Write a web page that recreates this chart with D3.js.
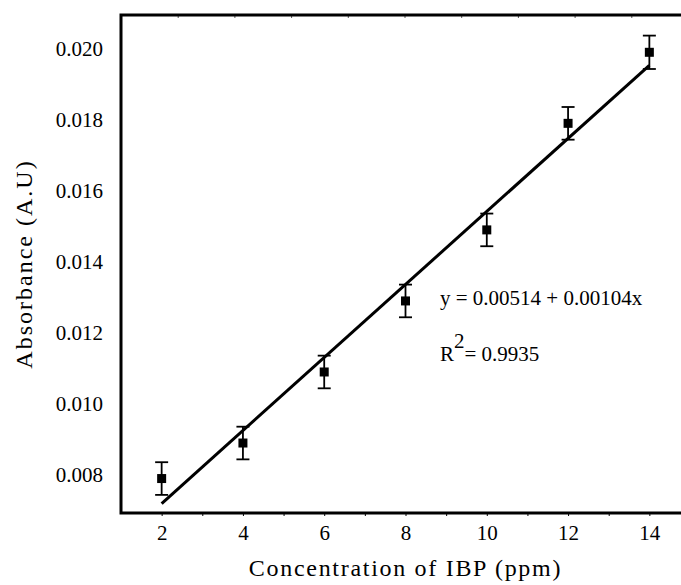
<!DOCTYPE html>
<html>
<head>
<meta charset="utf-8">
<script src="https://cdn.jsdelivr.net/npm/d3@7"></script>
<style>
  body { margin: 0; background: #fff; }
</style>
</head>
<body>
<div id="chart"></div>
<script>
// data
const concentrations = [2, 4, 6, 8, 10, 12, 14]
const absorbance = [0.0079, 0.0089, 0.0109, 0.0129, 0.0149, 0.0179, 0.0199]
const errors = [0.00046, 0.00046, 0.00046, 0.00046, 0.00046, 0.00046, 0.00047]
const xTicks = [2, 4, 6, 8, 10, 12, 14]
const yTicks = [0.008, 0.010, 0.012, 0.014, 0.016, 0.018, 0.020]
// fitted line as drawn
const fitRange = [2, 14]
const fitIntercept = 0.00514
const fitSlope = 0.001028
const equationText = "y = 0.00514 + 0.00104x"
const r2Text = "= 0.9935"

const width = 681, height = 585
const box = {left: 121, top: 15, right: 690, bottom: 513}
const FONT = 'Liberation Serif'

const svg = d3.select('#chart')
  .append('svg')
  .attr('width', width)
  .attr('height', height)

const x = d3.scaleLinear().domain([1, 15]).range([box.left, box.right])
const y = d3.scaleLinear().domain([0.00693, 0.02095]).range([box.bottom, box.top])

// Axes - bottom with minor ticks every unit
const xAxis = svg.append('g')
  .attr('transform', 'translate(0,' + box.bottom + ')')
  .call(d3.axisBottom(x).tickValues(d3.range(2, 15)).tickSize(3).tickFormat(d => xTicks.includes(d) ? d : ''))
xAxis.attr('font-family', FONT).attr('font-size', 21)
xAxis.select('.domain').remove()
xAxis.selectAll('line').attr('stroke-width', 1)
xAxis.selectAll('text')
  .attr('y', 12)
  .attr('font-family', FONT)
  .attr('font-size', 21)

// left axis labels (no tick marks)
const yAxis = svg.append('g')
  .attr('transform', 'translate(' + box.left + ',0)')
  .call(d3.axisLeft(y).tickValues(yTicks).tickSize(0).tickPadding(18).tickFormat(d3.format('.3f')))
yAxis.attr('font-family', FONT).attr('font-size', 21)
yAxis.select('.domain').remove()
yAxis.selectAll('text')
  .attr('font-family', FONT)
  .attr('font-size', 21)

// top faint ticks
const xTop = d3.scaleLinear().domain([0, 10]).range([box.left, box.left + 567])
const topAxis = svg.append('g')
  .attr('transform', 'translate(0,' + box.top + ')')
  .call(d3.axisBottom(xTop).ticks(10).tickSize(3).tickFormat(''))
topAxis.select('.domain').remove()
topAxis.selectAll('line').attr('stroke', '#555').attr('stroke-width', 1)

// frame
svg.append('path')
  .attr('d', `M${box.right},${box.top}H${box.left}V${box.bottom}H${box.right}`)
  .attr('fill', 'none')
  .attr('stroke', '#000')
  .attr('stroke-width', 3)

// fit line
svg.append('line')
  .attr('x1', x(fitRange[0]))
  .attr('y1', y(fitIntercept + fitSlope * fitRange[0]))
  .attr('x2', x(fitRange[1]))
  .attr('y2', y(fitIntercept + fitSlope * fitRange[1]))
  .attr('stroke', '#000')
  .attr('stroke-width', 3)

const pts = concentrations.map((c, i) => ({c, a: absorbance[i], e: errors[i]}))

// error bars
const bars = svg.selectAll('g.err')
  .data(pts)
  .enter()
  .append('g')
  .attr('class', 'err')
  .attr('stroke', '#000')
  .attr('stroke-width', 1.8)
bars.append('line')
  .attr('x1', d => x(d.c)).attr('x2', d => x(d.c))
  .attr('y1', d => y(d.a - d.e)).attr('y2', d => y(d.a + d.e))
bars.append('line')
  .attr('x1', d => x(d.c) - 6.5).attr('x2', d => x(d.c) + 6.5)
  .attr('y1', d => y(d.a + d.e)).attr('y2', d => y(d.a + d.e))
bars.append('line')
  .attr('x1', d => x(d.c) - 6.5).attr('x2', d => x(d.c) + 6.5)
  .attr('y1', d => y(d.a - d.e)).attr('y2', d => y(d.a - d.e))

// squares
svg.selectAll('rect.pt')
  .data(pts)
  .enter()
  .append('rect')
  .attr('class', 'pt')
  .attr('x', d => x(d.c) - 4.5)
  .attr('y', d => y(d.a) - 4.5)
  .attr('width', 9)
  .attr('height', 9)
  .attr('fill', '#000')

// equation
svg.append('text')
  .attr('x', 440)
  .attr('y', 305)
  .attr('font-family', FONT)
  .attr('font-size', 21)
  .text(equationText)
const r2 = svg.append('text')
  .attr('x', 440)
  .attr('y', 361)
  .attr('font-family', FONT)
  .attr('font-size', 21)
r2.append('tspan').text('R')
r2.append('tspan').attr('dy', -13).text('2')
r2.append('tspan').attr('dy', 13).text(r2Text)

// axis titles
svg.append('text')
  .attr('x', (box.left + box.right) / 2)
  .attr('y', 576)
  .attr('text-anchor', 'middle')
  .attr('font-family', FONT)
  .attr('font-size', 24)
  .attr('letter-spacing', 1.7)
  .text('Concentration of IBP (ppm)')

svg.append('text')
  .attr('transform', `translate(32,${(box.top + box.bottom) / 2}) rotate(-90)`)
  .attr('text-anchor', 'middle')
  .attr('font-family', FONT)
  .attr('font-size', 24)
  .attr('letter-spacing', 2)
  .text('Absorbance (A.U)')
</script>
</body>
</html>
